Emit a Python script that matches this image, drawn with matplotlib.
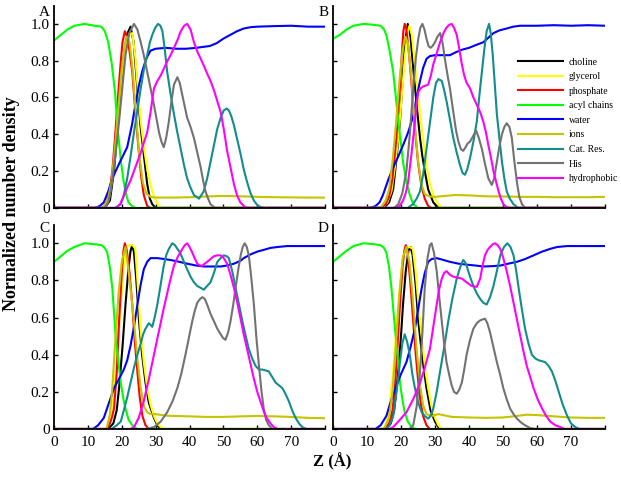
import numpy as np
import matplotlib
matplotlib.use('Agg')
import matplotlib.pyplot as plt

plt.rcParams['font.family'] = ['Liberation Serif', 'DejaVu Serif']

names = ['choline', 'glycerol', 'phosphate', 'acyl chains', 'water', 'ions',
         'Cat. Res.', 'His', 'hydrophobic']
colors = ['#000000', '#ffff00', '#ff0000', '#00ff00', '#0000ff', '#c4c400',
          '#128c8c', '#727272', '#ff00ff']
panel_letters = ['A', 'B', 'C', 'D']
xticks = [0, 10, 20, 30, 40, 50, 60, 70, 80]
xticklabels = ['0', '10', '20', '30', '40', '50', '60', '70', '']
yticks = [0, 0.2, 0.4, 0.6, 0.8, 1.0]
yticklabels = ['0', '0.2', '0.4', '0.6', '0.8', '1.0']

# ---- panel A : (Z, density) points
A_choline = [(0,0),(15,0),(16.5,0.04),(17.7,0.2),(18.7,0.42),(19.7,0.65),(20.7,0.84),(21.7,0.95),(22.6,0.985),(23.5,0.9),(24.6,0.65),(25.5,0.45),(26.5,0.29),(27.5,0.13),(28.3,0.05),(29,0.02),(30,0),(80,0)]
A_glycerol = [(0,0),(15,0),(16.2,0.05),(17.2,0.16),(18.2,0.35),(19.2,0.57),(20.2,0.76),(21.2,0.89),(22.2,0.94),(23.1,0.95),(24,0.82),(24.8,0.63),(25.6,0.47),(26.6,0.32),(27.6,0.2),(28.5,0.125),(29.5,0.06),(30.5,0.025),(31.5,0),(80,0)]
A_phosphate = [(0,0),(14.5,0),(15.7,0.04),(16.5,0.1),(17.2,0.2),(18,0.38),(18.7,0.56),(19.5,0.75),(20.2,0.9),(20.9,0.96),(21.6,0.93),(22.3,0.85),(23.1,0.74),(24.1,0.5),(25.1,0.29),(25.8,0.16),(26.5,0.07),(27.5,0.01),(28.5,0),(80,0)]
A_acyl = [(0,0.91),(2,0.94),(4,0.97),(6,0.99),(9,1.0),(12,0.99),(14,0.985),(15,0.96),(16,0.9),(17,0.79),(18,0.63),(18.7,0.45),(19.7,0.26),(20.5,0.15),(21.3,0.07),(22,0.03),(23,0.01),(24,0),(80,0)]
A_water = [(0,0),(12,0),(13.5,0.01),(14.7,0.03),(16,0.09),(17.2,0.16),(18.7,0.22),(20,0.27),(21.6,0.33),(23,0.45),(24.1,0.57),(25,0.66),(26,0.74),(27.2,0.81),(28.5,0.855),(30,0.865),(33,0.87),(36,0.865),(39,0.865),(42,0.87),(44,0.875),(46,0.88),(48,0.895),(50,0.92),(52,0.94),(54,0.96),(56,0.975),(58,0.982),(60,0.985),(65,0.988),(70,0.99),(75,0.985),(80,0.985)]
A_ions = [(0,0),(14.5,0),(16,0.05),(17,0.15),(18,0.33),(19,0.55),(20,0.76),(21,0.9),(21.6,0.93),(22.3,0.9),(23.2,0.75),(24.2,0.5),(25.2,0.28),(26.2,0.14),(27.2,0.08),(28.5,0.06),(30,0.056),(35,0.056),(40,0.058),(45,0.062),(50,0.065),(55,0.063),(60,0.06),(65,0.058),(70,0.057),(75,0.056),(80,0.056)]
A_catres = [(0,0),(18,0),(19.7,0.02),(20.6,0.07),(21.6,0.16),(22.6,0.28),(23.6,0.41),(24.6,0.53),(25.6,0.65),(26.5,0.75),(27.5,0.83),(28.3,0.9),(29,0.94),(29.9,0.98),(30.7,1.0),(31.4,0.99),(32,0.96),(32.7,0.86),(33.4,0.74),(34.4,0.62),(35.4,0.51),(36.4,0.41),(37.4,0.32),(38.4,0.23),(39.3,0.16),(40.3,0.11),(41.3,0.07),(42.8,0.05),(44.2,0.09),(45.2,0.16),(46.2,0.25),(47.2,0.34),(48.2,0.43),(49.2,0.49),(50.1,0.53),(51,0.54),(51.6,0.53),(52.3,0.5),(53.1,0.45),(54.1,0.37),(55.1,0.29),(56,0.21),(57,0.14),(58,0.08),(59,0.04),(60,0.015),(61,0.005),(62,0),(80,0)]
A_his = [(0,0),(15,0),(16,0.03),(16.7,0.09),(17.9,0.25),(19.2,0.47),(20.2,0.66),(21.1,0.83),(22.2,0.95),(23.6,1.0),(24.6,0.97),(25.6,0.9),(26.5,0.83),(27.5,0.74),(28.5,0.65),(29.5,0.56),(30.3,0.48),(31,0.41),(31.7,0.36),(32.4,0.33),(33.1,0.38),(33.9,0.47),(34.6,0.57),(35.4,0.67),(36.4,0.71),(37.1,0.68),(37.9,0.61),(38.6,0.55),(39.3,0.49),(40.3,0.44),(41.3,0.38),(42.3,0.3),(43.3,0.22),(44,0.15),(44.7,0.09),(45.5,0.05),(46.2,0.02),(47.5,0),(80,0)]
A_hydro = [(0,0),(18.5,0),(19.5,0.02),(20.5,0.06),(21.6,0.11),(22.6,0.15),(23.6,0.2),(24.6,0.25),(25.6,0.3),(26.6,0.36),(27.5,0.41),(28.5,0.52),(29.5,0.65),(30.5,0.69),(31.5,0.72),(32.5,0.76),(33.5,0.8),(34.4,0.83),(35.4,0.87),(36.4,0.91),(37.4,0.96),(38.4,0.99),(39.3,1.0),(40.3,0.97),(41.3,0.9),(42.3,0.85),(43.3,0.81),(44.3,0.77),(45.2,0.73),(46.2,0.69),(47.2,0.64),(48.2,0.58),(49.2,0.52),(50.1,0.43),(51.1,0.31),(52.1,0.22),(53.1,0.13),(54,0.07),(55,0.03),(56,0.01),(57,0),(80,0)]

# ---- panel B
B_choline = [(0,0),(15,0),(16.5,0.03),(17.7,0.1),(18.7,0.27),(19.7,0.47),(20.5,0.7),(21.2,0.9),(22,1.0),(22.8,0.93),(23.6,0.76),(24.6,0.56),(25.6,0.38),(26.3,0.28),(27,0.2),(28,0.1),(29.5,0.03),(31,0),(80,0)]
B_glycerol = [(0,0),(14.5,0),(16,0.03),(17.2,0.09),(18.2,0.22),(19.2,0.38),(20.2,0.6),(21.2,0.83),(22,0.96),(22.5,0.99),(23.2,0.94),(24.1,0.78),(25.1,0.6),(26.1,0.43),(27.5,0.23),(28.5,0.13),(29.5,0.07),(30.5,0.03),(31.5,0.01),(32.5,0),(80,0)]
B_phosphate = [(0,0),(14,0),(15.5,0.02),(16.5,0.06),(17.5,0.16),(18.5,0.35),(19.5,0.6),(20.3,0.85),(20.7,0.96),(21.1,1.0),(21.6,0.97),(22.3,0.85),(23,0.7),(24,0.45),(25,0.25),(26,0.12),(27,0.05),(28,0.01),(29,0),(80,0)]
B_acyl = [(0,0.92),(2,0.94),(4,0.97),(6,0.99),(9,1.0),(12,0.995),(14,0.99),(15,0.97),(15.7,0.94),(16.7,0.85),(17.7,0.74),(18.5,0.6),(19.2,0.47),(20,0.35),(20.6,0.25),(21.6,0.14),(22.6,0.07),(23.6,0.02),(25,0),(80,0)]
B_water = [(0,0),(11,0),(12.5,0.01),(13.7,0.03),(14.7,0.07),(16.2,0.15),(17.7,0.22),(19.2,0.28),(20.6,0.34),(22.1,0.41),(23.6,0.5),(24.6,0.6),(25.6,0.69),(26.5,0.76),(27.5,0.81),(28.5,0.825),(30,0.83),(32,0.83),(34.4,0.83),(36,0.845),(38,0.86),(40,0.87),(42,0.885),(44.2,0.9),(46,0.93),(47.2,0.95),(49,0.965),(51.1,0.975),(53,0.985),(55,0.99),(60,0.99),(65,0.993),(70,0.99),(75,0.993),(80,0.99)]
B_ions = [(0,0),(14,0),(15.5,0.04),(16.5,0.1),(17.5,0.25),(18.5,0.45),(19.5,0.68),(20.5,0.86),(21.3,0.93),(22,0.9),(23,0.72),(24,0.47),(25,0.26),(26,0.13),(27,0.075),(28.5,0.062),(30,0.06),(33,0.065),(36,0.07),(40,0.068),(45,0.063),(50,0.062),(55,0.06),(60,0.06),(65,0.058),(70,0.058),(75,0.058),(80,0.06)]
B_catres = [(0,0),(22,0),(23.5,0.02),(24.6,0.05),(25.6,0.09),(26.5,0.18),(27.5,0.32),(28.5,0.46),(29.5,0.6),(30.3,0.68),(31,0.7),(32,0.69),(32.7,0.64),(33.4,0.58),(34.4,0.48),(35.4,0.38),(36.4,0.3),(37.4,0.23),(38.1,0.19),(38.8,0.18),(39.5,0.21),(40.3,0.27),(41.3,0.36),(42.3,0.47),(43,0.6),(43.8,0.74),(44.5,0.86),(45.2,0.96),(45.9,1.0),(46.4,0.95),(47,0.83),(47.6,0.67),(48.2,0.51),(49,0.37),(49.7,0.25),(50.4,0.16),(51.1,0.09),(52,0.05),(53.1,0.02),(54.5,0),(80,0)]
B_his = [(0,0),(18,0),(19.2,0.02),(20.4,0.08),(21.6,0.2),(22.6,0.4),(23.6,0.65),(24.4,0.82),(25.1,0.92),(25.7,0.98),(26.3,1.0),(26.9,0.97),(27.5,0.92),(28.1,0.88),(28.7,0.87),(29.3,0.88),(30,0.9),(30.7,0.93),(31.5,0.95),(32.2,0.9),(33,0.8),(33.7,0.72),(34.4,0.65),(35.4,0.52),(36.2,0.42),(36.9,0.36),(37.6,0.32),(38.3,0.31),(39,0.33),(39.6,0.35),(40.3,0.36),(41.2,0.39),(42.1,0.42),(42.9,0.38),(43.8,0.32),(44.7,0.24),(45.7,0.16),(46.7,0.125),(47.4,0.16),(48.2,0.25),(48.9,0.33),(49.7,0.4),(50.4,0.44),(51.1,0.46),(51.9,0.44),(52.6,0.38),(53.3,0.26),(54.1,0.14),(54.8,0.06),(55.6,0.02),(56.5,0),(80,0)]
B_hydro = [(0,0),(18.5,0),(19.6,0.01),(20.6,0.04),(21.4,0.08),(22.1,0.14),(23,0.28),(23.6,0.38),(24.1,0.47),(24.6,0.57),(25.1,0.63),(25.8,0.65),(26.5,0.66),(27.3,0.665),(28,0.67),(28.8,0.72),(29.5,0.78),(30.5,0.84),(31.5,0.9),(32.5,0.95),(33.4,0.98),(34.2,0.995),(34.9,1.0),(35.6,0.98),(36.4,0.94),(37.1,0.87),(37.9,0.78),(38.6,0.72),(39.3,0.68),(40.3,0.65),(41.3,0.6),(42.3,0.56),(43.3,0.52),(44.2,0.47),(45,0.41),(45.7,0.34),(46.5,0.27),(47.2,0.2),(48,0.14),(48.7,0.09),(49.4,0.05),(50.1,0.02),(51,0.005),(52,0),(80,0)]

# ---- panel C
C_choline = [(0,0),(16,0),(17.5,0.03),(18.5,0.1),(19.2,0.22),(20.2,0.44),(21.1,0.67),(22,0.87),(22.6,0.96),(23.1,0.99),(23.6,0.95),(24.3,0.8),(25.1,0.58),(26,0.4),(27,0.25),(28,0.14),(29.5,0.06),(30.5,0.02),(31.5,0),(80,0)]
C_glycerol = [(0,0),(15,0),(16,0.02),(16.7,0.06),(17.5,0.16),(18.2,0.31),(19,0.5),(19.8,0.7),(20.6,0.88),(21.5,0.98),(22.3,0.99),(23.2,0.99),(24,0.97),(24.8,0.75),(25.6,0.52),(26.5,0.36),(27.5,0.22),(28.5,0.13),(29.5,0.07),(30.5,0.03),(31.5,0.01),(32.5,0),(80,0)]
C_phosphate = [(0,0),(15.5,0),(16.5,0.03),(17.2,0.07),(17.7,0.11),(18.5,0.3),(19.2,0.58),(20,0.84),(20.5,0.96),(20.9,1.0),(21.5,0.96),(22.3,0.84),(23.1,0.67),(23.8,0.48),(24.6,0.31),(25.3,0.17),(26.1,0.07),(27,0.02),(28,0),(80,0)]
C_acyl = [(0,0.9),(2,0.93),(4,0.96),(6,0.98),(9,1.0),(12,0.995),(14,0.99),(15,0.975),(15.7,0.95),(16.5,0.87),(17.2,0.76),(17.7,0.63),(18.2,0.49),(19,0.36),(19.7,0.25),(20.4,0.17),(21.1,0.11),(22,0.05),(23.1,0.02),(24.5,0),(80,0)]
C_water = [(0,0),(11.5,0),(13,0.02),(14.7,0.06),(16.2,0.14),(17.7,0.22),(19.2,0.27),(20.6,0.32),(21.6,0.37),(22.6,0.45),(23.6,0.55),(24.6,0.67),(25.6,0.78),(26.5,0.86),(27.5,0.9),(28.5,0.92),(30.5,0.92),(32.5,0.915),(34.4,0.91),(37,0.9),(39.3,0.89),(42,0.88),(44.2,0.875),(47,0.875),(49.2,0.875),(51,0.88),(53.1,0.89),(55,0.905),(56,0.92),(58,0.94),(60,0.955),(62,0.965),(63.9,0.975),(66,0.98),(68.8,0.985),(72,0.985),(76,0.985),(80,0.985)]
C_ions = [(0,0),(15.5,0),(16.5,0.08),(17.2,0.22),(18,0.45),(19,0.72),(20,0.9),(21.1,0.98),(22,0.85),(22.8,0.72),(23.6,0.58),(24.6,0.38),(25.6,0.22),(26.6,0.12),(27.5,0.09),(28.5,0.08),(30,0.08),(33,0.072),(36,0.07),(40,0.068),(45,0.065),(50,0.065),(55,0.068),(60,0.07),(65,0.068),(70,0.065),(75,0.06),(80,0.058)]
C_catres = [(0,0),(17,0),(18.5,0.02),(19.7,0.04),(20.6,0.1),(21.6,0.17),(22.6,0.25),(23.6,0.33),(24.6,0.4),(25.6,0.46),(26.3,0.51),(27,0.54),(28,0.57),(29,0.55),(29.7,0.6),(30.5,0.67),(31.5,0.78),(32.4,0.88),(33.2,0.94),(33.9,0.97),(34.9,1.0),(35.7,0.99),(36.4,0.97),(37.2,0.95),(37.9,0.92),(38.6,0.89),(39.3,0.86),(40.3,0.82),(41.3,0.79),(42.3,0.77),(43.3,0.76),(44.2,0.75),(45.2,0.77),(46.2,0.79),(47.2,0.84),(48.2,0.9),(49.2,0.92),(50.1,0.935),(51,0.93),(51.6,0.92),(52.6,0.85),(53.6,0.76),(54.6,0.67),(55.6,0.58),(56.6,0.5),(57.5,0.43),(58.5,0.38),(59.5,0.34),(60.5,0.32),(61.5,0.32),(62.5,0.315),(63.4,0.31),(64.4,0.28),(65.4,0.25),(66.4,0.235),(67.4,0.22),(68.3,0.19),(69.3,0.15),(70.3,0.1),(71.3,0.06),(72.3,0.03),(73.3,0.01),(74.5,0),(80,0)]
C_his = [(0,0),(27,0),(29.5,0.01),(31.5,0.04),(33.4,0.09),(35,0.15),(36.4,0.22),(37.6,0.3),(38.8,0.4),(39.8,0.49),(40.8,0.58),(41.6,0.64),(42.3,0.68),(43.1,0.7),(43.8,0.71),(44.5,0.7),(45.2,0.67),(46.2,0.62),(47.2,0.58),(48.2,0.54),(49.2,0.51),(49.9,0.49),(50.6,0.48),(51.4,0.52),(52.1,0.58),(52.9,0.67),(53.6,0.76),(54.4,0.86),(55.1,0.935),(55.7,0.98),(56.3,1.0),(56.9,0.98),(57.5,0.935),(58.2,0.82),(59,0.67),(59.7,0.5),(60.5,0.34),(61.2,0.21),(61.9,0.11),(62.6,0.05),(63.4,0.02),(64.5,0),(80,0)]
C_hydro = [(0,0),(22.5,0),(23.6,0.01),(25,0.06),(26.5,0.15),(28,0.27),(29.5,0.4),(31,0.53),(32.4,0.65),(33.9,0.77),(35.4,0.88),(36.6,0.93),(37.9,0.97),(38.6,0.99),(39.3,1.0),(40,0.98),(40.8,0.95),(41.5,0.92),(42.3,0.89),(43.1,0.88),(43.8,0.88),(44.5,0.89),(45.2,0.9),(46.2,0.915),(47.2,0.93),(48.2,0.935),(49.2,0.935),(50.1,0.92),(51.1,0.89),(52.1,0.83),(53.1,0.76),(54.1,0.68),(55.1,0.59),(56,0.51),(57,0.43),(58,0.35),(59,0.27),(60,0.2),(61,0.145),(62,0.09),(62.9,0.056),(63.9,0.03),(64.9,0.01),(66,0),(80,0)]

# ---- panel D
D_choline = [(0,0),(15.5,0),(17,0.03),(18,0.1),(19.2,0.31),(20,0.5),(20.6,0.67),(21.4,0.85),(22.2,0.96),(22.8,0.98),(23.4,0.94),(24.3,0.78),(25.1,0.58),(26.3,0.38),(27.5,0.22),(28.7,0.1),(30,0.04),(31,0.01),(32,0),(80,0)]
D_glycerol = [(0,0),(14.5,0),(15.5,0.02),(16.5,0.1),(17.7,0.31),(18.7,0.55),(19.7,0.77),(20.6,0.92),(21.5,0.98),(22.5,0.98),(23.5,0.97),(24.3,0.85),(25.1,0.68),(25.6,0.58),(26.5,0.43),(27.2,0.31),(28,0.22),(29,0.12),(30,0.06),(31,0.02),(32,0),(80,0)]
D_phosphate = [(0,0),(15,0),(16.5,0.03),(17.5,0.1),(18.2,0.22),(19,0.45),(19.7,0.67),(20.5,0.88),(21,0.96),(21.4,0.99),(21.9,0.96),(22.7,0.8),(23.6,0.58),(24.3,0.41),(25.1,0.25),(25.8,0.14),(26.5,0.07),(27.5,0.02),(28.5,0),(80,0)]
D_acyl = [(0,0.9),(2,0.93),(4,0.96),(6,0.985),(9,1.0),(12,0.995),(14,0.99),(15,0.975),(15.7,0.95),(16.5,0.87),(17.2,0.76),(17.8,0.63),(18.5,0.49),(19.1,0.37),(19.7,0.25),(20.4,0.16),(21.1,0.09),(22,0.04),(23.1,0.01),(24.5,0),(80,0)]
D_water = [(0,0),(12.5,0),(14,0.02),(15.7,0.07),(17.2,0.16),(18.7,0.235),(20.1,0.3),(21.6,0.36),(22.8,0.44),(24.1,0.54),(25.1,0.65),(26.1,0.76),(27,0.84),(28,0.9),(29,0.915),(30.5,0.92),(32.5,0.91),(34.4,0.9),(37,0.89),(39.3,0.885),(42,0.88),(44.2,0.875),(47,0.877),(49.2,0.88),(51.5,0.89),(54.1,0.9),(56.5,0.915),(59,0.935),(61.5,0.955),(63.9,0.97),(66,0.98),(68.8,0.985),(72,0.985),(76,0.985),(80,0.985)]
D_ions = [(0,0),(15,0),(16.5,0.06),(17.5,0.2),(18.5,0.45),(19.5,0.72),(20.5,0.92),(21.6,0.98),(22.5,0.9),(23.5,0.7),(24.5,0.45),(25.5,0.25),(26.5,0.13),(27.5,0.08),(29,0.07),(31,0.08),(35,0.065),(40,0.062),(45,0.06),(50,0.062),(54,0.07),(57,0.077),(60,0.075),(65,0.068),(70,0.062),(75,0.06),(80,0.06)]
D_catres = [(0,0),(15.5,0),(16.7,0.02),(17.7,0.07),(18.7,0.2),(19.7,0.36),(20.4,0.46),(21.1,0.51),(21.8,0.47),(22.6,0.4),(23.3,0.3),(24.1,0.22),(25.1,0.14),(26.1,0.09),(27,0.07),(28,0.056),(28.7,0.07),(29.5,0.11),(30.5,0.2),(31.5,0.31),(32.7,0.44),(33.9,0.58),(35.1,0.7),(36.4,0.81),(37.4,0.87),(38.3,0.91),(38.8,0.9),(39.3,0.88),(40.3,0.82),(41.3,0.77),(42.3,0.73),(43.3,0.7),(44.2,0.68),(45.2,0.67),(46.2,0.71),(47.2,0.77),(48.2,0.85),(49.2,0.935),(50.3,0.98),(51.3,1.0),(52.2,0.98),(53.1,0.935),(53.9,0.85),(54.6,0.76),(55.6,0.64),(56.5,0.54),(57.5,0.46),(58.5,0.4),(59.5,0.38),(60.5,0.37),(61.5,0.365),(62.4,0.36),(63.4,0.34),(64.4,0.31),(65.4,0.26),(66.4,0.2),(67.6,0.13),(68.8,0.074),(70,0.03),(71.3,0.01),(72.5,0),(80,0)]
D_his = [(0,0),(22.5,0),(23.6,0.02),(24.6,0.12),(25.6,0.31),(26.3,0.52),(27,0.76),(27.8,0.92),(28.5,0.99),(29,1.0),(29.7,0.95),(30.5,0.85),(31.2,0.72),(32,0.58),(32.7,0.46),(33.4,0.36),(34.2,0.29),(34.9,0.235),(35.6,0.2),(36.4,0.19),(37.1,0.21),(37.9,0.25),(38.6,0.32),(39.3,0.4),(40.3,0.48),(41.3,0.54),(42.3,0.57),(43.3,0.585),(44,0.59),(44.7,0.594),(45.4,0.57),(46.2,0.52),(47.2,0.44),(48.2,0.36),(49.2,0.29),(50.1,0.22),(51.1,0.16),(52.1,0.11),(53.1,0.08),(54.1,0.056),(55.3,0.035),(56.5,0.02),(58,0.005),(59.5,0),(80,0)]
D_hydro = [(0,0),(16.5,0),(17.7,0.01),(19.7,0.05),(21.6,0.09),(23.6,0.16),(25.6,0.25),(27,0.33),(28.5,0.43),(29.5,0.55),(30.5,0.67),(31.2,0.75),(32,0.81),(32.7,0.84),(33.4,0.85),(34.4,0.83),(35.4,0.82),(36.6,0.815),(37.9,0.81),(39.3,0.79),(40.8,0.77),(42.3,0.765),(43.3,0.81),(44,0.88),(44.7,0.935),(45.5,0.965),(46.2,0.98),(47,0.995),(47.7,1.0),(48.4,0.99),(49.2,0.97),(50.1,0.92),(51.1,0.85),(52.1,0.77),(53.1,0.68),(54.1,0.59),(55.1,0.5),(56,0.42),(57,0.34),(58,0.28),(59,0.22),(60.2,0.16),(61.5,0.11),(62.7,0.07),(63.9,0.04),(65.4,0.02),(66.9,0.01),(68,0),(80,0)]

panels = {
    'A': [A_choline, A_glycerol, A_phosphate, A_acyl, A_water, A_ions, A_catres, A_his, A_hydro],
    'B': [B_choline, B_glycerol, B_phosphate, B_acyl, B_water, B_ions, B_catres, B_his, B_hydro],
    'C': [C_choline, C_glycerol, C_phosphate, C_acyl, C_water, C_ions, C_catres, C_his, C_hydro],
    'D': [D_choline, D_glycerol, D_phosphate, D_acyl, D_water, D_ions, D_catres, D_his, D_hydro],
}

fig = plt.figure(figsize=(6.21, 4.79), dpi=100)

# axes rectangles (figure fraction)
rects = {
    'A': [0.087, 0.566, 0.4364, 0.4225],
    'B': [0.5362, 0.566, 0.438, 0.4225],
    'C': [0.087, 0.1044, 0.4364, 0.4265],
    'D': [0.5362, 0.1044, 0.438, 0.4265],
}
letter_pos = {'A': (50, 12), 'B': (329, 12), 'C': (50, 229), 'D': (329, 229)}

for key in panel_letters:
    ax = fig.add_axes(rects[key])
    for curve, name, c in zip(panels[key], names, colors):
        pts = np.array(curve)
        ax.plot(pts[:, 0], pts[:, 1], color=c, lw=1.5, label=name)
    ax.set_xlim(0, 80)
    ax.set_ylim(0, 1.1)
    for s in ['top', 'right']:
        ax.spines[s].set_visible(False)
    for s in ['left', 'bottom']:
        ax.spines[s].set_linewidth(1.3)
    ax.set_xticks(xticks)
    ax.set_yticks(yticks)
    ax.tick_params(direction='in', length=3, width=1, labelsize=11)
    ax.tick_params(axis='x', pad=5)
    ax.tick_params(axis='y', pad=3)
    if key in ('C', 'D'):
        ax.set_xticklabels(xticklabels)
    else:
        ax.set_xticklabels([])
    if key in ('A', 'C'):
        ax.set_yticklabels(yticklabels)
    else:
        ax.set_yticklabels([])
    lx, ly = letter_pos[key]
    fig.text(lx / 621, 1 - ly / 479, key, ha='right', va='center', fontsize=11)
    if key == 'B':
        ax.legend(loc='upper left', bbox_to_anchor=(0.679, 0.742), frameon=False,
                  fontsize=7, handlelength=4.7, handletextpad=0.55,
                  labelspacing=0.57, borderpad=0, borderaxespad=0)

fig.text(11.5 / 621, 1 - 204 / 479, 'Normalized number density', rotation=90,
         fontweight='bold', fontsize=13, ha='center', va='center')
fig.text(332 / 621, 1 - 462 / 479, 'Z (Å)', fontweight='bold', fontsize=12,
         ha='center', va='center')

fig.savefig('out.png', dpi=100)
